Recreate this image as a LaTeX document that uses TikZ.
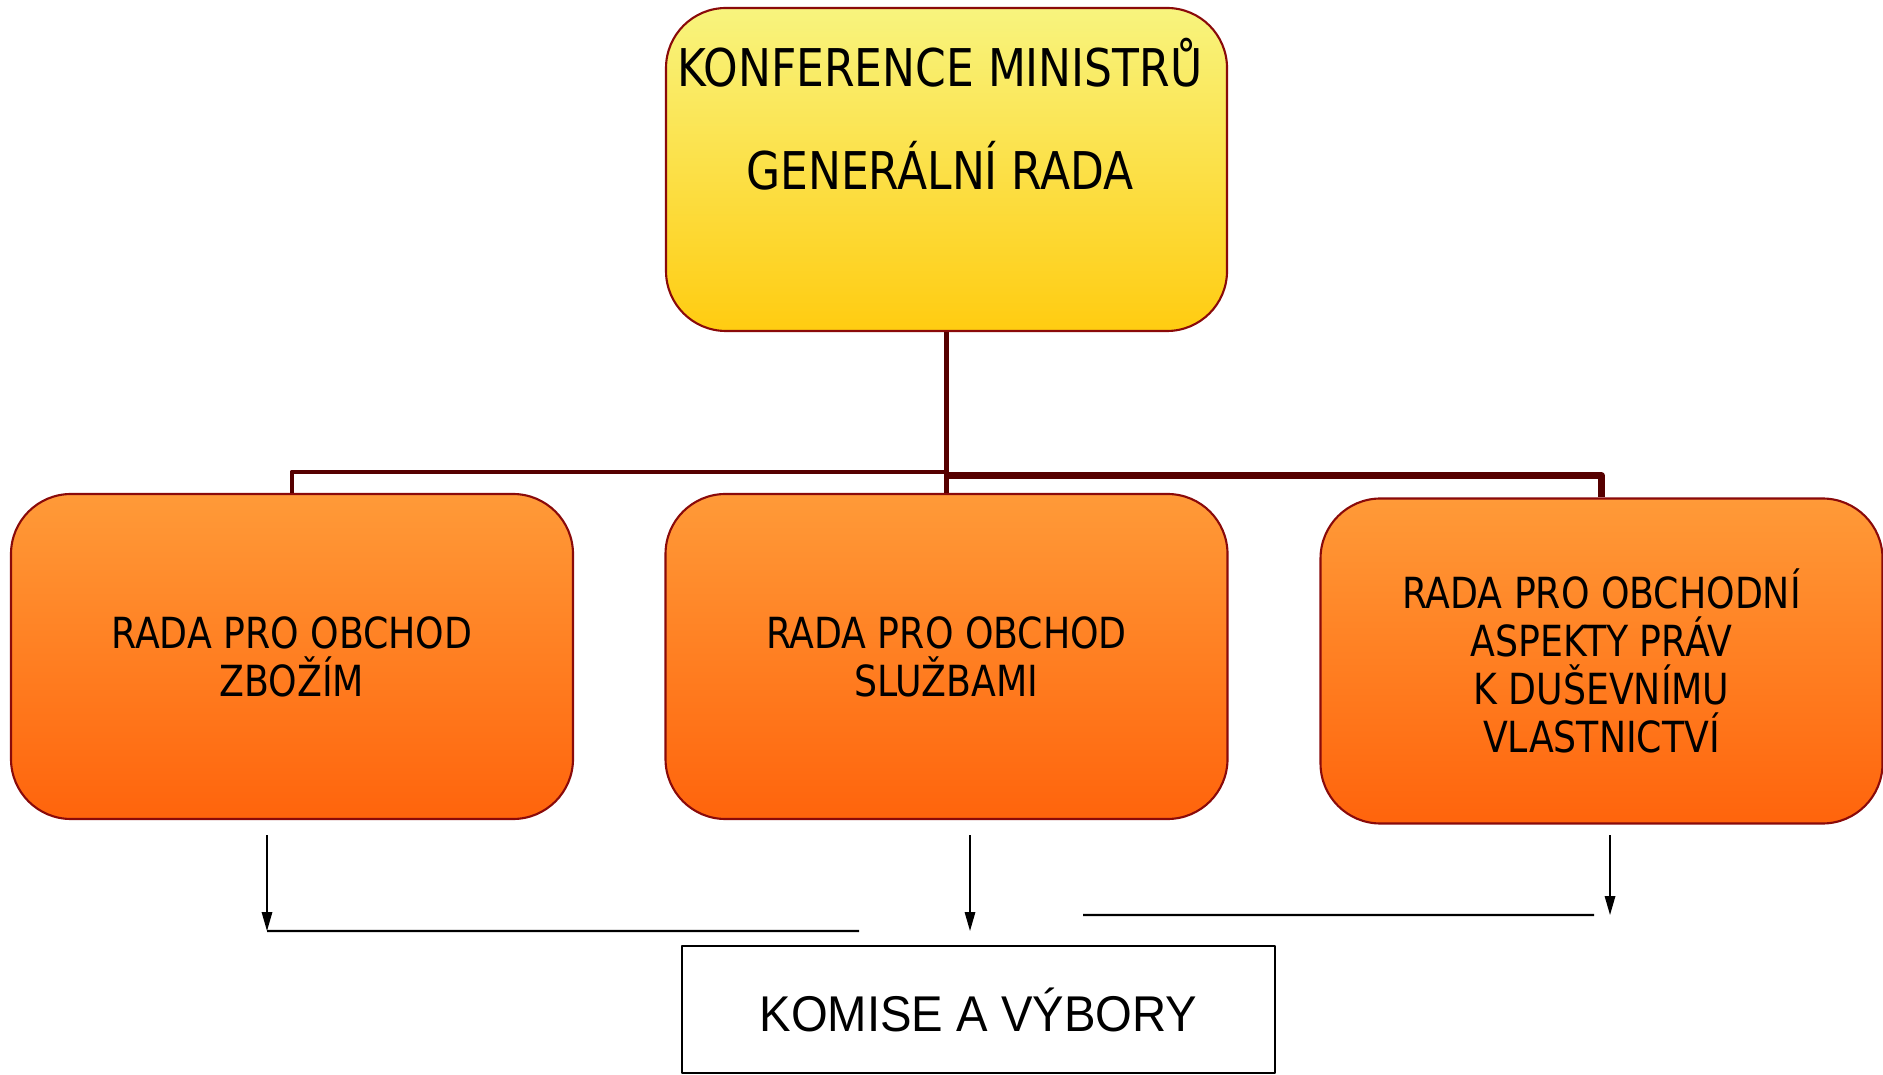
\documentclass[tikz,border=0pt]{standalone}
\usepackage{fontspec}
\setmainfont[FakeStretch=0.94]{DejaVu Sans Condensed}
\newfontfamily\komfont[FakeStretch=0.94]{Liberation Sans}
\usetikzlibrary{arrows.meta,positioning}
\definecolor{boxedge}{HTML}{8A0A0A}
\definecolor{treeline}{HTML}{560000}
\definecolor{yeltop}{HTML}{F8F47E}
\definecolor{yelbot}{HTML}{FFCC11}
\definecolor{orgtop}{HTML}{FF9A38}
\definecolor{orgbot}{HTML}{FF640C}
\begin{document}
\begin{tikzpicture}[line join=round, >={Triangle[length=1.9mm,width=1.05mm]},
	rada/.style={draw=boxedge, line width=0.6pt, rounded corners=0.6cm, top color=orgtop, bottom color=orgbot,
		minimum width=5.62cm, minimum height=3.25cm, align=center,
		font=\fontsize{12.2}{13.6}\selectfont},
	tree/.style={draw=treeline, line width=1.4pt},
	thin/.style={line width=0.45pt}]
	\useasboundingbox (0,0) rectangle (18.83,-10.75);
	\node[draw=boxedge, line width=0.6pt, rounded corners=0.6cm, top color=yeltop, bottom color=yelbot,
		minimum width=5.61cm, minimum height=3.23cm] (konf) at (9.465,-1.695) {};
	\node[anchor=base, font=\fontsize{14.8}{16}\selectfont] (konfA) at (9.40,-0.865) {KONFERENCE MINISTRŮ};
	\node[anchor=base, font=\fontsize{14.8}{16}\selectfont] (konfB) at (9.40,-1.90) {GENERÁLNÍ RADA};
	\node[rada] (zbozi) at (2.92,-6.565) {RADA PRO OBCHOD\\ZBOŽÍM};
	\node[rada] (sluzby) at (9.465,-6.565) {RADA PRO OBCHOD\\SLUŽBAMI};
	\node[rada] (trips) at (16.015,-6.61) {RADA PRO OBCHODNÍ\\ASPEKTY PRÁV\\K DUŠEVNÍMU\\VLASTNICTVÍ};
	\node[draw, line width=0.6pt, minimum width=5.93cm, minimum height=1.27cm,
		font=\komfont\fontsize{14.3}{16}\selectfont] (komise) at (9.785,-10.095) {KOMISE A VÝBORY};
	\coordinate (split) at (9.465,-4.72);
	\coordinate (splitR) at (9.465,-4.755);
	\draw[tree] (konf.south)--(split);
	\draw[tree] (split)-|(zbozi.north) (split)--(sluzby.north);
	\draw[tree, line width=1.9pt] (splitR)-|(trips.north);
	\path (2.67,-8.35)coordinate(a1)--++(0,-0.96)coordinate(b1)
		(9.70,-8.35)coordinate(a2)--++(0,-0.96)coordinate(b2)
		(16.10,-8.35)coordinate(a3)--++(0,-0.80)coordinate(b3)
		(8.59,-9.31)coordinate(e1)
		(10.83,-9.15)coordinate(s3)
		(15.94,-9.15)coordinate(e3);
	\foreach \i in {1,2,3} \draw[thin,->](a\i)--(b\i);
	\draw[line width=0.6pt](b1)--(e1) (s3)--(e3);
\end{tikzpicture}
\end{document}
